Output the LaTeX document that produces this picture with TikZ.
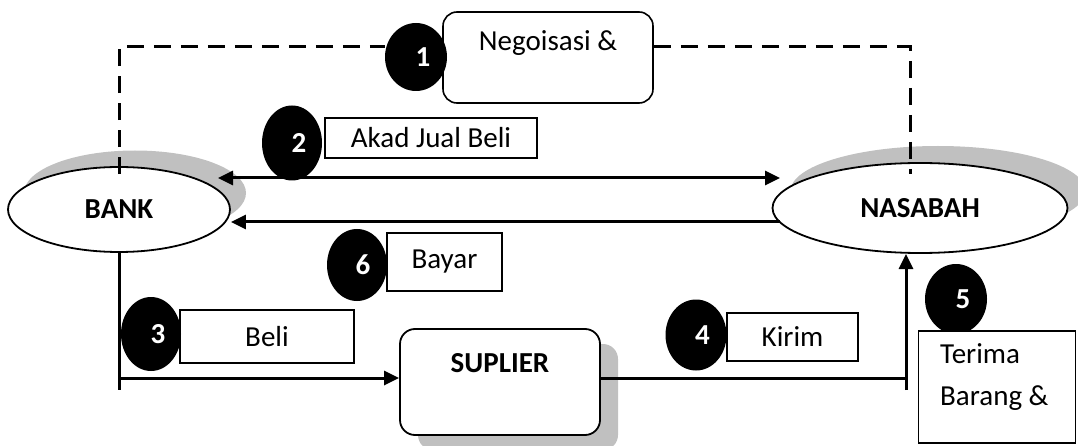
\documentclass[tikz,border=0pt]{standalone}
\usepackage{fontspec}
\setmainfont{Carlito}
\usetikzlibrary{shapes.geometric,arrows.meta,calc}
\definecolor{shadowgray}{HTML}{C0C0C0}
\begin{document}
\begin{tikzpicture}[x=1pt,y=-1pt,
  txt/.style={font=\fontsize{29}{34}\selectfont},
  party/.style={ellipse, draw, line width=1.8pt, fill=white, inner sep=0pt,
                font=\fontsize{29}{34}\selectfont\bfseries},
  shade/.style={fill=shadowgray, draw=none, inner sep=0pt},
  tag/.style={draw, line width=1.6pt, fill=white, inner sep=0pt, txt},
  num/.style={ellipse, fill=black, inner sep=0pt, text=white,
              font=\fontsize{29}{34}\selectfont\bfseries},
  flow/.style={line width=3pt},
  arr/.style={flow, -{Triangle[length=15pt,width=14pt]}},
  dashline/.style={line width=3pt, dash pattern=on 17pt off 10pt}]
\useasboundingbox (0,0) rectangle (1078,446);

% parties with their drop shadows
\node[shade, ellipse, minimum width=222pt, minimum height=85pt] (bankshade) at (135,193) {};
\node[party, minimum width=222pt, minimum height=85pt] (bank) at (119,209.5) {BANK};
\node[shade, ellipse, minimum width=295pt, minimum height=90pt] (nasshade) at (938,191) {};
\node[party, minimum width=295pt, minimum height=90pt] (nasabah) at (920,208) {NASABAH};

% supplier
\node[shade, rounded corners=15pt, minimum width=200pt, minimum height=106pt] (supshade) at (518,397) {};
\node[draw, line width=1.8pt, fill=white, rounded corners=15pt, inner sep=0pt,
      minimum width=200pt, minimum height=106pt,
      label={[anchor=center, yshift=-35pt, font=\fontsize{29}{34}\selectfont\bfseries]north:SUPLIER}]
      (sup) at (500,382) {};

% step 1: negotiation (dashed link)
\node[draw, line width=1.6pt, fill=white, rounded corners=14pt, inner sep=0pt,
      minimum width=210pt, minimum height=91pt,
      label={[anchor=center, yshift=-32pt, txt]north:Negoisasi \&}]
      (box1) at (548,57.5) {};
\node[num, minimum width=62pt, minimum height=68pt] (num1) at (416,57) {\hspace*{14pt}1};
\coordinate (d1) at (119,47);
\coordinate (d2) at (910,47);
\coordinate (d3) at (910,174);
\draw[dashline] ($(bank.north)+(0,8)$) -- (d1) -- (d1 -| num1.west);
\draw[dashline] (box1.east |- d1) -- (d2) -- (d3);

% step 2: sale contract
\coordinate (a2l) at (218,178);
\coordinate (a2r) at (780,178);
\draw[flow, {Triangle[length=15pt,width=14pt]}-{Triangle[length=15pt,width=14pt]}] (a2l) -- (a2r);
\node[tag, minimum width=212pt, minimum height=40pt] (box2) at (431,138) {Akad Jual Beli};
\node[num, minimum width=60pt, minimum height=75pt] (num2) at (292,143) {\hspace*{14pt}2};

% step 6: payment
\coordinate (a6r) at (780,222);
\draw[arr] (a6r) -- (a6r -| bank.east);
\node[tag, minimum width=115pt, minimum height=58pt] (box6) at (444.5,262) {Bayar};
\node[num, minimum width=60pt, minimum height=72pt] (num6) at (357,265) {\hspace*{12pt}6};

% step 3: bank buys from supplier
\coordinate (bl) at (119,390);
\coordinate (j3) at (119,378);
\draw[flow] (bank.south) -- (bl);
\draw[arr] (j3) -- (j3 -| sup.west);
\node[tag, minimum width=174pt, minimum height=53pt] (box3) at (267,336.5) {Beli};
\node[num, minimum width=60pt, minimum height=74pt] (num3) at (151,334) {\hspace*{14pt}3};

% step 4: supplier ships to customer
\coordinate (j4) at (906,378);
\coordinate (br) at (906,390);
\draw[flow] (sup.east |- j4) -- (j4);
\node[tag, minimum width=131pt, minimum height=48pt] (box4) at (792.5,337) {Kirim};
\node[num, minimum width=61pt, minimum height=71pt] (num4) at (696,335) {\hspace*{13pt}4};

% step 5: customer receives the goods
\draw[arr] (br) -- (906,254);
\node[num, minimum width=62pt, minimum height=70pt] (num5) at (956,299) {\hspace*{14pt}5};
\node[draw, line width=1.6pt, fill=white, inner sep=0pt,
      minimum width=157pt, minimum height=112pt] (box5) at (997,387) {};
\node[anchor=north west, inner sep=0pt, align=left,
      font=\fontsize{29}{42}\selectfont] (t5) at (940,343) {Terima\\Barang \&};
\end{tikzpicture}
\end{document}
